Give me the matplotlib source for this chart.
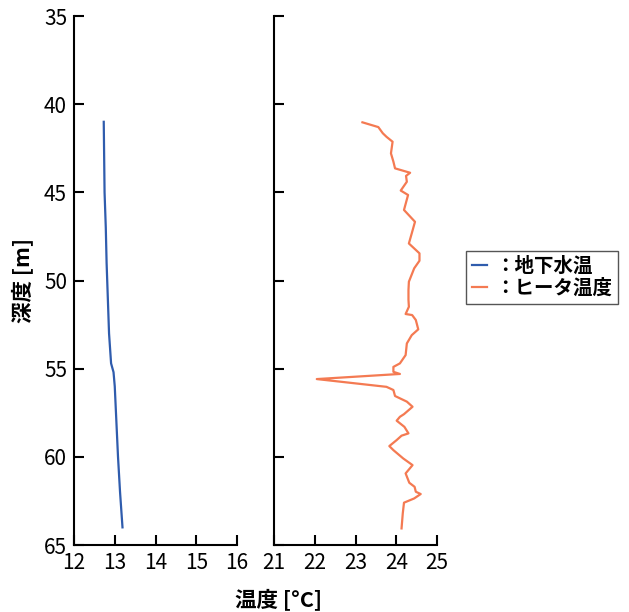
import matplotlib
matplotlib.use("Agg")
import matplotlib.pyplot as plt

plt.rcParams['font.family'] = ['Noto Sans CJK JP', 'DejaVu Sans']

# 地下水温 (depth m, temperature °C)
gw_depth = [41.0, 43.0, 45.0, 47.0, 49.0, 51.0, 53.0, 54.7, 55.2, 56.0, 58.0, 60.0, 62.0, 64.0]
gw_temp = [12.73, 12.74, 12.75, 12.78, 12.80, 12.83, 12.86, 12.91, 12.97, 13.0, 13.04, 13.08, 13.13, 13.19]

# ヒータ温度
ht_depth = [41.03, 41.3, 41.65, 41.85, 42.13, 42.79, 43.26, 43.64, 43.89, 44.07, 44.4, 44.9,
            45.15, 46.0, 46.67, 47.33, 47.9, 48.46, 48.88, 49.31, 50.07, 50.54, 51.1, 51.49,
            51.9, 51.96, 52.24, 52.77, 53.1, 53.57, 54.23, 54.7, 54.9, 55.18, 55.3, 55.59,
            56.03, 56.21, 56.55, 56.87, 57.16, 57.58, 57.73, 57.95, 58.3, 58.67, 58.8, 59.05,
            59.39, 59.62, 60.09, 60.47, 60.94, 61.47, 61.7, 61.98, 62.11, 62.36, 62.6, 63.21,
            64.06]
ht_temp = [23.17, 23.56, 23.67, 23.76, 23.91, 23.87, 23.93, 23.97, 24.34, 24.24, 24.26, 24.11,
           24.29, 24.19, 24.46, 24.38, 24.31, 24.57, 24.57, 24.44, 24.31, 24.3, 24.3, 24.31,
           24.23, 24.39, 24.48, 24.54, 24.38, 24.26, 24.23, 24.09, 23.93, 23.93, 24.09, 22.05,
           23.76, 23.93, 23.97, 24.26, 24.4, 24.19, 24.09, 24.01, 24.2, 24.3, 24.13, 24.01,
           23.83, 23.93, 24.17, 24.4, 24.23, 24.32, 24.45, 24.48, 24.6, 24.44, 24.19, 24.16,
           24.13]

xticks_left = [12, 13, 14, 15, 16]
xticks_right = [21, 22, 23, 24, 25]
yticks = [35, 40, 45, 50, 55, 60, 65]

fig = plt.figure(figsize=(6.29, 6.12), dpi=100)
ax1 = fig.add_axes([74/629, 67/612, 163/629, 529/612])
ax2 = fig.add_axes([274/629, 67/612, 163/629, 529/612])

l1, = ax1.plot(gw_temp, gw_depth, color='#2f5cad', lw=1.6)
l2, = ax2.plot(ht_temp, ht_depth, color='#f47a52', lw=1.6)

for ax, xt in [(ax1, xticks_left), (ax2, xticks_right)]:
    ax.set_xlim(xt[0], xt[-1])
    ax.set_ylim(65, 35)
    ax.set_xticks(xt)
    ax.set_yticks(yticks)
    ax.spines['top'].set_visible(False)
    ax.spines['right'].set_visible(False)
    ax.spines['left'].set_linewidth(1.5)
    ax.spines['bottom'].set_linewidth(1.5)
    ax.tick_params(direction='in', length=7, width=1.5, labelsize=15, pad=5)

ax2.tick_params(axis='y', labelleft=False)

fig.text(279/629, 1 - 599/612, '温度 [°C]', ha='center', va='center', fontsize=15.5, fontweight='bold')
fig.text(22/629, 1 - 280/612, '深度 [m]', ha='center', va='center', fontsize=15.5, fontweight='bold', rotation=90)

leg = fig.legend([l1, l2], ['：地下水温', '：ヒータ温度'], loc='upper left',
                 bbox_to_anchor=(466/629, 1 - 251/612), fancybox=False, framealpha=1,
                 edgecolor='#555555', handlelength=0.8, handletextpad=0.4,
                 borderpad=0.3, labelspacing=0.15, borderaxespad=0,
                 prop={'size': 14, 'weight': 'bold'})
leg.get_frame().set_linewidth(1.0)

fig.savefig('out.png', dpi=100)
